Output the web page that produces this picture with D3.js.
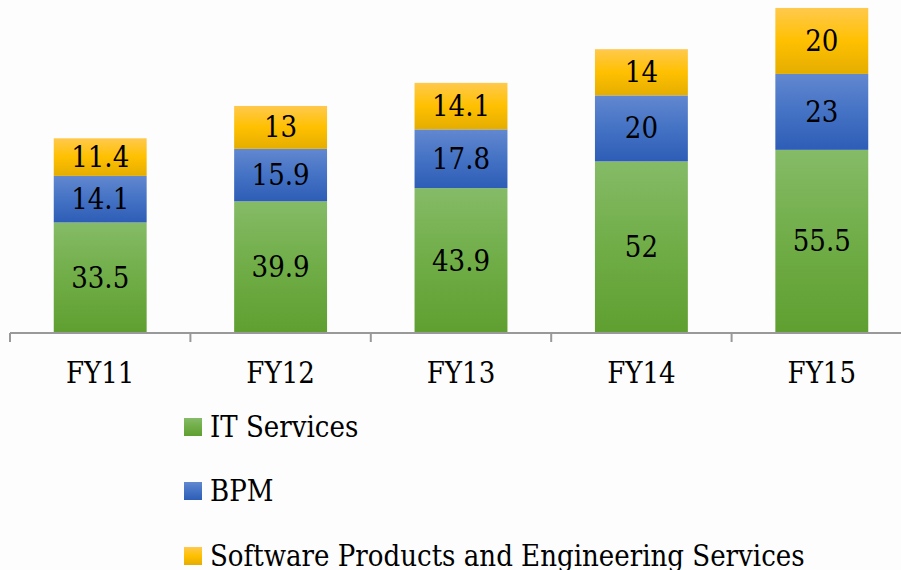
<!DOCTYPE html>
<html>
<head>
    <meta charset="utf-8">
    <style>
        body { margin: 0; background: #fdfdfd; }
        svg { display: block; }
        text {
            font-family: "DejaVu Serif Condensed", "DejaVu Serif", serif;
            font-stretch: condensed;
            fill: #000;
        }
        .axis path, .axis line {
            stroke: #999;
            stroke-width: 2px;
        }
    </style>
    <script src="https://cdn.jsdelivr.net/npm/d3@7"></script>
</head>
<body>
<script>
    // data
    let years = ["FY11", "FY12", "FY13", "FY14", "FY15"];
    let itServices = [33.5, 39.9, 43.9, 52, 55.5];
    let bpm = [14.1, 15.9, 17.8, 20, 23];
    let software = [11.4, 13, 14.1, 14, 20];
    let seriesNames = ["IT Services", "BPM", "Software Products and Engineering Services"];

    let width = 901, height = 570;

    let svg = d3.select("body").append("svg")
        .attr("width", width)
        .attr("height", height);

    // gradients like the office ones: light on top, darker at the bottom
    let grads = [
        { id: "g0", stops: ["#85bb67", "#70ad47", "#5f9f30"] },
        { id: "g1", stops: ["#6288d0", "#4472c4", "#2d5db6"] },
        { id: "g2", stops: ["#ffc94d", "#ffc000", "#e4ad00"] }
    ];
    let defs = svg.append("defs");
    grads.forEach(g => {
        let lg = defs.append("linearGradient")
            .attr("id", g.id)
            .attr("x1", 0).attr("y1", 0).attr("x2", 0).attr("y2", 1);
        lg.append("stop").attr("offset", "0%").attr("stop-color", g.stops[0]);
        lg.append("stop").attr("offset", "50%").attr("stop-color", g.stops[1]);
        lg.append("stop").attr("offset", "100%").attr("stop-color", g.stops[2]);
    });

    let rows = years.map((y, i) => ({
        year: y,
        s0: itServices[i],
        s1: bpm[i],
        s2: software[i]
    }));

    let stack = d3.stack().keys(["s0", "s1", "s2"]);
    let layers = stack(rows);

    let x = d3.scaleBand()
        .domain(years)
        .range([10, 912])
        .paddingInner(0.485)
        .paddingOuter(0.2425);

    let y = d3.scaleLinear()
        .domain([0, 100])
        .range([333, 3]);

    // bars
    let groups = svg.selectAll("g.layer")
        .data(layers)
        .join("g")
        .attr("class", "layer")
        .attr("fill", (d, i) => "url(#g" + i + ")");

    groups.selectAll("rect")
        .data(d => d)
        .join("rect")
        .attr("x", d => x(d.data.year))
        .attr("y", d => y(d[1]))
        .attr("width", x.bandwidth())
        .attr("height", d => y(d[0]) - y(d[1]));

    groups.selectAll("text")
        .data(d => d)
        .join("text")
        .attr("x", d => x(d.data.year) + x.bandwidth() / 2)
        .attr("y", d => (y(d[0]) + y(d[1])) / 2)
        .attr("text-anchor", "middle")
        .attr("dominant-baseline", "central")
        .style("font-size", "29px")
        .text(d => +(d[1] - d[0]).toFixed(1));

    // x axis, ticks between categories
    let axis = svg.append("g")
        .attr("class", "axis")
        .attr("transform", "translate(0,333)");
    axis.append("line")
        .attr("x1", 10).attr("x2", width)
        .attr("y1", 0).attr("y2", 0);
    let step = x.step();
    axis.selectAll("line.tick")
        .data(d3.range(years.length + 1))
        .join("line")
        .attr("class", "tick")
        .attr("x1", i => 10 + i * step)
        .attr("x2", i => 10 + i * step)
        .attr("y1", 0).attr("y2", 9);
    axis.selectAll("text")
        .data(years)
        .join("text")
        .attr("x", d => x(d) + x.bandwidth() / 2)
        .attr("y", 50)
        .attr("text-anchor", "middle")
        .style("font-size", "29px")
        .text(d => d);

    // legend
    let legend = svg.append("g")
        .attr("transform", "translate(184,0)");
    let legendY = [427, 491, 556];
    legend.selectAll("rect")
        .data(seriesNames)
        .join("rect")
        .attr("x", 0)
        .attr("y", (d, i) => legendY[i] - 9)
        .attr("width", 18)
        .attr("height", 18)
        .attr("fill", (d, i) => "url(#g" + i + ")");
    legend.selectAll("text")
        .data(seriesNames)
        .join("text")
        .attr("x", 26)
        .attr("y", (d, i) => legendY[i])
        .attr("dominant-baseline", "central")
        .style("font-size", "29px")
        .text(d => d);
</script>
</body>
</html>
